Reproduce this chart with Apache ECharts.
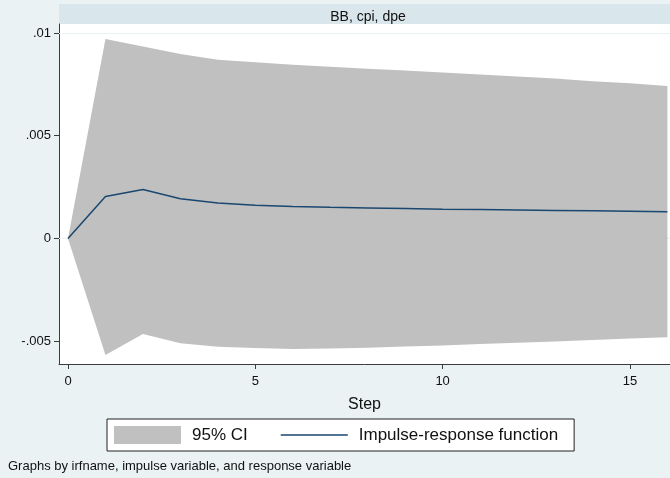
<!DOCTYPE html>
<html>
<head>
<meta charset="utf-8">
<script src="https://cdn.jsdelivr.net/npm/echarts@6/dist/echarts.min.js"></script>
<style>
html,body{margin:0;padding:0;background:#eaf2f3;}
#c{width:670px;height:478px;}
</style>
</head>
<body>
<div id="c"></div>
<script>
// ---- data ----
var steps = [0,1,2,3,4,5,6,7,8,9,10,11,12,13,14,15,16];
var irf   = [0,0.00204,0.00238,0.00193,0.00172,0.00161,0.00155,0.00151,0.00148,0.00145,0.00142,0.00140,0.00138,0.00136,0.00134,0.00132,0.00130];
var ciUpper = [0,0.00971,0.00934,0.00898,0.00870,0.00857,0.00845,0.00835,0.00826,0.00817,0.00808,0.00798,0.00788,0.00778,0.00765,0.00755,0.00742];
var ciLower = [0,-0.00568,-0.00466,-0.00510,-0.00528,-0.00534,-0.00538,-0.00536,-0.00532,-0.00527,-0.00522,-0.00514,-0.00508,-0.00502,-0.00495,-0.00488,-0.00481];
var yTicks = [-0.005,0,0.005,0.01];
var xTicks = [0,5,10,15];
var panelTitle = 'BB, cpi, dpe';
var xName = 'Step';
var noteText = 'Graphs by irfname, impulse variable, and response variable';

function pairs(v){ return steps.map(function(s,i){return [s,v[i]];}); }
function fmtY(v){
  if (v === 0) return '0';
  var s = String(Math.abs(v)).replace(/^0/, '');
  return (v < 0 ? '-' : '') + s;
}
var FONT = 'Liberation Sans, Arial, sans-serif';
var AX = '#3c3c3c';
var BAND = '#c0c0c0';

var chart = echarts.init(document.getElementById('c'), null, {renderer:'canvas'});
chart.setOption({
  backgroundColor: '#eaf2f3',
  animation: false,
  textStyle: {fontFamily: FONT},
  title: {
    text: panelTitle, left: 363, top: 5, textAlign: 'center',
    textStyle: {fontSize: 14, fontWeight: 'normal', color: '#111', fontFamily: FONT}
  },
  grid: {left: 59, top: 24, right: 0, bottom: 114, backgroundColor: '#fff', show: true, borderWidth: 0},
  xAxis: {
    type: 'value', min: -0.24, max: 16.07,
    name: xName, nameLocation: 'middle', nameGap: 33,
    nameTextStyle: {fontSize: 16, color: '#111', fontFamily: FONT},
    axisLine: {show: true, onZero: false, lineStyle: {color: AX, width: 1}},
    axisTick: {show: true, length: 5, inside: false, customValues: xTicks, lineStyle: {color: AX}},
    axisLabel: {customValues: xTicks, margin: 11, fontSize: 13, color: '#111', fontFamily: FONT},
    splitLine: {show: false}
  },
  yAxis: {
    type: 'value', min: -0.006116, max: 0.010437,
    axisLine: {show: true, onZero: false, lineStyle: {color: AX, width: 1}},
    axisTick: {show: true, length: 5, inside: false, customValues: yTicks, lineStyle: {color: AX}},
    axisLabel: {customValues: yTicks, margin: 8, fontSize: 13, color: '#111', fontFamily: FONT, formatter: fmtY},
    splitLine: {show: false}
  },
  legend: {
    left: 107, top: 419, orient: 'horizontal',
    padding: [7, 16, 7, 7], itemGap: 33, itemWidth: 67, itemHeight: 18,
    backgroundColor: '#fff', borderColor: '#222', borderWidth: 1,
    selectedMode: false,
    textStyle: {fontSize: 17, color: '#111', fontFamily: FONT, padding: [0,0,0,6]},
    data: [
      {name: '95% CI', icon: 'rect', itemStyle: {color: BAND, borderWidth: 0}},
      {name: 'Impulse-response function', icon: 'path://M0,0 M0,8.3 L67,8.3 L67,9.7 L0,9.7 Z M67,18',
       itemStyle: {color: '#1a476f', borderWidth: 0}}
    ]
  },
  graphic: [
    {type: 'rect', left: 59, top: 4, z: -10, shape: {width: 611, height: 20}, style: {fill: '#d9e6eb'}},
    {type: 'text', left: 8, top: 460, style: {text: noteText, fontSize: 13, fill: '#111', fontFamily: FONT}}
  ],
  series: [
    {
      name: 'grid', type: 'line', data: [], z: 1, silent: true,
      markLine: {
        silent: true, symbol: 'none', label: {show: false}, z: 1,
        lineStyle: {color: '#eaf2f3', width: 1, type: 'solid'},
        data: yTicks.map(function(t){return {yAxis: t};})
      }
    },
    {
      name: '95% CI', type: 'line', data: pairs(ciUpper), symbol: 'none', z: 2,
      lineStyle: {width: 0, opacity: 0, color: BAND}, itemStyle: {color: BAND},
      areaStyle: {color: BAND, opacity: 1, origin: 0}
    },
    {
      name: '95% CI', type: 'line', data: pairs(ciLower), symbol: 'none', z: 2,
      lineStyle: {width: 0, opacity: 0, color: BAND}, itemStyle: {color: BAND},
      areaStyle: {color: BAND, opacity: 1, origin: 0.00006}
    },
    {
      name: 'Impulse-response function', type: 'line', data: pairs(irf), symbol: 'none', z: 3,
      lineStyle: {width: 1.5, color: '#1a476f'}, itemStyle: {color: '#1a476f'}
    }
  ]
});
</script>
</body>
</html>
